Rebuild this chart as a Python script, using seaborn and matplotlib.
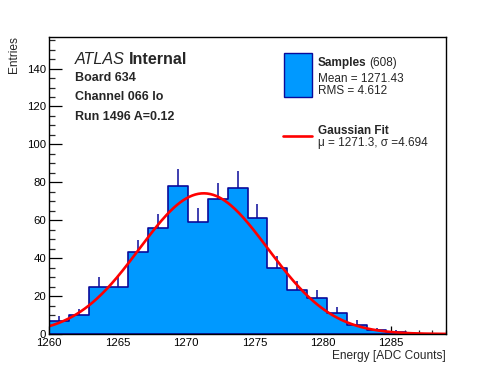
import numpy as np
import pandas as pd
import matplotlib
matplotlib.use("Agg")
import matplotlib.pyplot as plt
from matplotlib.patches import Rectangle
from matplotlib.lines import Line2D
from matplotlib.ticker import MultipleLocator
import seaborn as sns

# ---- data ----
bin_edges = [1260.0, 1261.45, 1262.9, 1264.35, 1265.8, 1267.25, 1268.7, 1270.15,
             1271.6, 1273.05, 1274.5, 1275.95, 1277.4, 1278.85, 1280.3, 1281.75,
             1283.2, 1284.65, 1286.1, 1287.55, 1289.0]
counts = [7, 10, 25, 25, 43, 56, 78, 59, 71, 77, 61, 35, 23, 19, 11, 5, 2, 1, 0, 0]
fit_mu = 1271.3
fit_sigma = 4.694
fit_amp = 74.2
x_range = [1260, 1289]
y_range = [0, 156.5]
x_major_ticks = [1260, 1265, 1270, 1275, 1280, 1285]
y_major_ticks = [0, 20, 40, 60, 80, 100, 120, 140]

FILL = "#0099ff"
EDGE = "#0a0a9a"
RED = "#ff0000"

sns.set_theme(style="white")
plt.rcParams["font.family"] = ["Liberation Sans", "DejaVu Sans"]

W, H = 496, 372
fig = plt.figure(figsize=(W / 100, H / 100), dpi=100)
L, R, T, B = 49, 446, 37.3, 334
ax = fig.add_axes([L / W, 1 - B / H, (R - L) / W, (B - T) / H])

edges = np.array(bin_edges)
centers = (edges[:-1] + edges[1:]) / 2
cnt = np.array(counts, dtype=float)
df = pd.DataFrame({"energy": centers, "n": cnt})

sns.histplot(data=df, x="energy", weights="n", bins=list(bin_edges), element="step",
             fill=True, color=FILL, alpha=1.0, edgecolor=EDGE, linewidth=1.2,
             ax=ax, zorder=2)

# error bars (upper half visible above the fill)
nz = cnt > 0
ax.vlines(centers[nz], cnt[nz], cnt[nz] + np.sqrt(cnt[nz]), color=EDGE,
          linewidth=1.1, zorder=3)

# gaussian fit curve from fit parameters
xf = np.linspace(x_range[0], x_range[1], 400)
yf = fit_amp * np.exp(-0.5 * ((xf - fit_mu) / fit_sigma) ** 2)
sns.lineplot(x=xf, y=yf, color=RED, linewidth=1.9, ax=ax, zorder=4)

ax.set_xlim(*x_range)
ax.set_ylim(*y_range)
ax.set_xticks(x_major_ticks)
ax.set_yticks(y_major_ticks)
ax.xaxis.set_minor_locator(MultipleLocator(1))
ax.yaxis.set_minor_locator(MultipleLocator(5))
ax.tick_params(axis="x", which="major", direction="in", length=6, width=0.9,
               labelsize=8.2, pad=3.2, colors="black", bottom=True)
ax.tick_params(axis="x", which="minor", direction="in", length=3, width=0.9,
               bottom=True)
ax.tick_params(axis="y", which="major", direction="in", length=9, width=0.9,
               labelsize=8.2, pad=2, colors="black", left=True)
ax.tick_params(axis="y", which="minor", direction="in", length=4.5, width=0.9,
               left=True)
for s in ax.spines.values():
    s.set_color("black")
    s.set_linewidth(1.0)
    s.set_zorder(5)
ax.set_xlabel("")
ax.set_ylabel("")
ax.set_facecolor("white")

def fx(px):
    return px / W

def fy(py):
    return 1 - py / H

# axis titles
fig.text(fx(446), fy(358.5), "Energy [ADC Counts]", ha="right", va="baseline",
         fontsize=8.6)
fig.text(fx(8), fy(36), "Entries", ha="right", va="top", rotation=90,
         fontsize=8.6, rotation_mode="anchor")

# ATLAS label block
t1 = fig.text(fx(75), fy(63.5), "ATLAS", ha="left", va="baseline",
              fontsize=11.6, style="italic")
fig.canvas.draw()
bb = t1.get_window_extent()
fig.text((bb.x1 + 4) / W, fy(63.5), "Internal", ha="left", va="baseline",
         fontsize=11.6, fontweight="bold")
fig.text(fx(75), fy(81), "Board 634", ha="left", va="baseline",
         fontsize=9, fontweight="bold")
fig.text(fx(75), fy(100.5), "Channel 066 lo", ha="left", va="baseline",
         fontsize=9, fontweight="bold")
fig.text(fx(75), fy(119.5), "Run 1496 A=0.12", ha="left", va="baseline",
         fontsize=9, fontweight="bold")

# legend
fig.patches.append(Rectangle((fx(283.5), fy(96.7)), (311.7 - 283.5) / W,
                             (96.7 - 53.3) / H, transform=fig.transFigure,
                             facecolor=FILL, edgecolor=EDGE, linewidth=1.0))
t2 = fig.text(fx(317.7), fy(66), "Samples", ha="left", va="baseline",
              fontsize=8.5, fontweight="bold")
fig.canvas.draw()
bb2 = t2.get_window_extent()
fig.text((bb2.x1 + 3) / W, fy(66), "(608)", ha="left", va="baseline",
         fontsize=8.5)
fig.text(fx(317.7), fy(81.5), "Mean = 1271.43", ha="left", va="baseline",
         fontsize=8.5)
fig.text(fx(317.7), fy(94.5), "RMS = 4.612", ha="left", va="baseline",
         fontsize=8.5)
fig.lines.append(Line2D([fx(283), fx(312)], [fy(136), fy(136)],
                        transform=fig.transFigure, color=RED, linewidth=1.9))
fig.text(fx(317.7), fy(133.5), "Gaussian Fit", ha="left", va="baseline",
         fontsize=8.5, fontweight="bold")
fig.text(fx(317.7), fy(146), "\u03bc = 1271.3, \u03c3 =4.694", ha="left",
         va="baseline", fontsize=8.5)

fig.savefig("out.png", dpi=100, facecolor="white")
